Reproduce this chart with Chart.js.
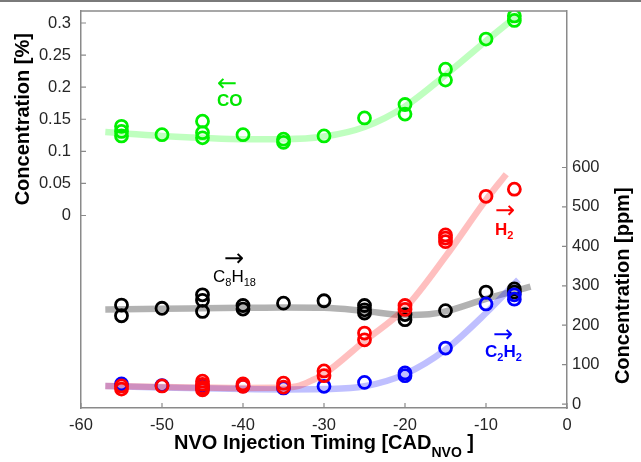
<!DOCTYPE html>
<html><head><meta charset="utf-8">
<script src="https://cdn.jsdelivr.net/npm/chart.js@4.4.0/dist/chart.umd.min.js"></script>
<style>html,body{margin:0;padding:0;background:#fff;}#wrap{width:641px;height:462px;}</style>
</head><body><div id="wrap"><canvas id="c" width="641" height="462"></canvas></div>
<script>
// ---- tick labels ----
const xTickValues = [-60, -50, -40, -30, -20, -10, 0];
const leftTickValues = [0, 0.05, 0.1, 0.15, 0.2, 0.25, 0.3];
const rightTickValues = [0, 100, 200, 300, 400, 500, 600];

// ---- CO [%] (left axis) ----
const coX = [-55, -55, -55, -50, -45, -45, -45, -40, -35, -35, -30, -25, -20, -20, -15, -15, -10, -6.5, -6.5];
const coY = [0.139, 0.131, 0.124, 0.126, 0.147, 0.129, 0.121, 0.126, 0.119, 0.114, 0.124, 0.152, 0.173, 0.158, 0.228, 0.211, 0.275, 0.311, 0.304];
const coFitX = [-57, -50, -45, -40, -35, -30, -25, -20, -15, -10, -6];
const coFitY = [0.130, 0.124, 0.121, 0.119, 0.119, 0.123, 0.138, 0.170, 0.219, 0.272, 0.313];

// ---- C8H18 [ppm] (right axis) ----
const c8X = [-55, -55, -50, -45, -45, -45, -40, -40, -35, -30, -25, -25, -25, -20, -20, -15, -10, -6.5, -6.5];
const c8Y = [251, 224, 243, 277, 263, 235, 250, 241, 256, 262, 250, 239, 231, 227, 214, 237, 284, 292, 284];
const c8FitX = [-57, -50, -45, -40, -35, -30, -25, -20, -17, -15, -10, -4.5];
const c8FitY = [240, 242, 243, 244, 245, 244, 236, 226, 228, 235, 267, 298];

// ---- H2 [ppm] (right axis) ----
const h2X = [-55, -55, -50, -45, -45, -45, -45, -40, -40, -35, -35, -30, -30, -25, -25, -20, -20, -15, -15, -15, -10, -6.5];
const h2Y = [46, 38, 46, 58, 50, 42, 36, 51, 45, 53, 43, 84, 72, 180, 163, 250, 240, 429, 421, 412, 527, 545];
const h2FitX = [-57, -50, -45, -40, -35, -33, -31.5, -30, -25, -20, -15, -10, -7.5];
const h2FitY = [46, 43, 42, 41, 42, 47, 60, 76, 160, 243, 374, 518, 583];

// ---- C2H2 [ppm] (right axis) ----
const c2X = [-55, -50, -45, -45, -40, -35, -30, -25, -20, -20, -15, -10, -6.5, -6.5];
const c2Y = [51, 47, 45, 40, 46, 41, 45, 55, 79, 72, 142, 254, 277, 266];
const c2FitX = [-57, -50, -45, -40, -35, -30, -25, -20, -15, -10, -6];
const c2FitY = [46, 42, 40, 38, 37, 38, 45, 76, 138, 231, 315];

const pts = (xs, ys) => xs.map((x, i) => ({x: x, y: ys[i]}));

const FONT = '"Liberation Sans", Arial, sans-serif';
const AXIS = '#8a8a8a';
const TICKCOL = '#262626';

function pointSet(data, color, axis, order) {
  return {data: data, yAxisID: axis, order: order, showLine: false,
    pointStyle: 'circle', pointRadius: 6, pointBorderWidth: 2.8,
    borderColor: color, backgroundColor: 'rgba(0,0,0,0)'};
}
function fitSet(data, color, axis, order) {
  return {data: data, yAxisID: axis, order: order, showLine: true, pointRadius: 0,
    borderColor: color, borderWidth: 6.5, cubicInterpolationMode: 'monotone', fill: false};
}

function drawRuns(ctx, runs, x, y, align) {
  // runs: [text, size, weight, dy]
  let total = 0;
  runs.forEach(r => { ctx.font = r[2] + ' ' + r[1] + 'px ' + FONT; total += ctx.measureText(r[0]).width; });
  let cx = align === 'center' ? x - total / 2 : x;
  ctx.textAlign = 'left'; ctx.textBaseline = 'alphabetic';
  runs.forEach(r => {
    ctx.font = r[2] + ' ' + r[1] + 'px ' + FONT;
    ctx.fillText(r[0], cx, y + r[3]);
    cx += ctx.measureText(r[0]).width;
  });
}

const decor = {
  id: 'decor',
  afterDraw(chart) {
    const ctx = chart.ctx, a = chart.chartArea;
    const sx = chart.scales.x, sl = chart.scales.y, sr = chart.scales.y2;
    ctx.save();
    // image top border
    ctx.fillStyle = '#7a7a7a';
    ctx.fillRect(0, 0, 641, 2);
    // top frame line
    ctx.strokeStyle = AXIS; ctx.lineWidth = 1.5;
    ctx.beginPath(); ctx.moveTo(a.left, a.top); ctx.lineTo(a.right, a.top); ctx.stroke();
    // inward ticks
    ctx.lineWidth = 1.2;
    ctx.beginPath();
    xTickValues.forEach(v => { const p = sx.getPixelForValue(v); ctx.moveTo(p, a.bottom); ctx.lineTo(p, a.bottom - 5); });
    leftTickValues.forEach(v => { const p = sl.getPixelForValue(v); ctx.moveTo(a.left, p); ctx.lineTo(a.left + 5, p); });
    rightTickValues.forEach(v => { const p = sr.getPixelForValue(v); ctx.moveTo(a.right, p); ctx.lineTo(a.right - 5, p); });
    ctx.stroke();

    // axis titles
    ctx.fillStyle = '#000';
    ctx.font = 'bold 20px ' + FONT;
    ctx.textAlign = 'center'; ctx.textBaseline = 'middle';
    ctx.save(); ctx.translate(23, (sl.getPixelForValue(0) + sl.getPixelForValue(0.3)) / 2); ctx.rotate(-Math.PI / 2);
    ctx.fillText('Concentration [%]', 0, 0); ctx.restore();
    ctx.save(); ctx.translate(623, (sr.getPixelForValue(0) + sr.getPixelForValue(600)) / 2); ctx.rotate(-Math.PI / 2);
    ctx.fillText('Concentration [ppm]', 0, 0); ctx.restore();
    drawRuns(ctx, [['NVO Injection Timing [CAD', 20, 'bold', 0], ['NVO', 14, 'bold', 8], [' ]', 20, 'bold', 0]],
      (a.left + a.right) / 2, 449, 'center');

    // annotations
    function arrow(ch, cx, cy, color) {
      ctx.fillStyle = color; ctx.font = '24px "DejaVu Sans", sans-serif';
      ctx.textAlign = 'center'; ctx.textBaseline = 'middle';
      ctx.fillText(ch, cx, cy);
    }
    arrow('\u2190', 227, 85, '#00e600');
    ctx.fillStyle = '#00e600';
    drawRuns(ctx, [['CO', 17, 'bold', 0]], 217, 106, 'left');

    arrow('\u2192', 234, 260, '#000');
    ctx.fillStyle = '#000';
    drawRuns(ctx, [['C', 17, 'normal', 0], ['8', 11, 'normal', 4], ['H', 17, 'normal', 0], ['18', 11, 'normal', 4]], 213, 282, 'left');

    arrow('\u2192', 505, 212, '#ff0000');
    ctx.fillStyle = '#ff0000';
    drawRuns(ctx, [['H', 17, 'bold', 0], ['2', 11, 'bold', 3.5]], 495, 235, 'left');

    arrow('\u2192', 503, 336, '#0000ff');
    ctx.fillStyle = '#0000ff';
    drawRuns(ctx, [['C', 17, 'bold', 0], ['2', 11, 'bold', 3.5], ['H', 17, 'bold', 0], ['2', 11, 'bold', 3.5]], 485, 357, 'left');
    ctx.restore();
  }
};

function fixTicks(values) {
  return function (s) { s.ticks = values.map(v => ({value: v})); };
}

new Chart(document.getElementById('c'), {
  type: 'scatter',
  data: {
    datasets: [
      pointSet(pts(h2X, h2Y), '#ff0000', 'y2', 1),
      pointSet(pts(c2X, c2Y), '#0000ff', 'y2', 2),
      pointSet(pts(c8X, c8Y), '#000000', 'y2', 3),
      pointSet(pts(coX, coY), '#00f000', 'y', 4),
      fitSet(pts(h2FitX, h2FitY), 'rgba(255,0,0,0.25)', 'y2', 10),
      fitSet(pts(c2FitX, c2FitY), 'rgba(0,0,255,0.25)', 'y2', 11),
      fitSet(pts(c8FitX, c8FitY), 'rgba(0,0,0,0.3)', 'y2', 12),
      fitSet(pts(coFitX, coFitY), 'rgba(0,255,0,0.25)', 'y', 13)
    ]
  },
  options: {
    responsive: false, devicePixelRatio: 1, animation: false, events: [],
    layout: {padding: {top: 11, left: 0, right: 0, bottom: 0}},
    plugins: {legend: {display: false}, tooltip: {enabled: false}},
    scales: {
      x: {
        type: 'linear', position: 'bottom', min: -60, max: 0,
        afterBuildTicks: fixTicks(xTickValues),
        afterFit: s => { s.height = 54; s.paddingLeft = 0; s.paddingRight = 0; },
        grid: {drawOnChartArea: false, drawTicks: false},
        border: {display: true, color: AXIS, width: 1.5},
        ticks: {color: TICKCOL, font: {family: FONT, size: 16.5}, padding: 8, callback: v => String(v), maxRotation: 0, autoSkip: false}
      },
      y: {
        type: 'linear', position: 'left', min: -0.3, max: 0.3187,
        afterBuildTicks: fixTicks(leftTickValues),
        afterFit: s => { s.width = 81; s.paddingTop = 0; s.paddingBottom = 0; },
        grid: {drawOnChartArea: false, drawTicks: false},
        border: {display: true, color: AXIS, width: 1.5},
        ticks: {color: TICKCOL, font: {family: FONT, size: 16.5}, padding: 10, callback: v => String(v), autoSkip: false}
      },
      y2: {
        type: 'linear', position: 'right', min: -10, max: 997,
        afterBuildTicks: fixTicks(rightTickValues),
        afterFit: s => { s.width = 74; s.paddingTop = 0; s.paddingBottom = 0; },
        grid: {drawOnChartArea: false, drawTicks: false},
        border: {display: true, color: AXIS, width: 1.5},
        ticks: {color: TICKCOL, font: {family: FONT, size: 16.5}, padding: 5, callback: v => String(v), autoSkip: false}
      }
    }
  },
  plugins: [decor]
});
</script></body></html>
